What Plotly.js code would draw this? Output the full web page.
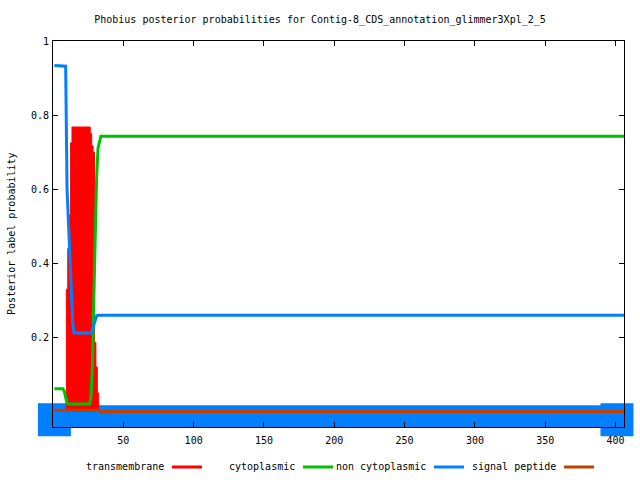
<!DOCTYPE html>
<html>
<head>
<meta charset="utf-8">
<script src="https://cdn.plot.ly/plotly-3.0.1.min.js"></script>
<style>html,body{margin:0;padding:0;background:#fff;}#chart{width:640px;height:480px;}</style>
</head>
<body>
<div id="chart"></div>
<script>
// ---- data ----
const chartTitle = "Phobius posterior probabilities for Contig-8_CDS_annotation_glimmer3Xpl_2_5";
const yTitle = "Posterior label probability";

// transmembrane posterior (residue, probability)
const tmX = [9, 10, 11, 12, 13, 14, 15, 16, 17, 18, 19, 20, 21, 22, 23, 24, 25, 26, 27, 28, 29, 30, 31, 32, 33];
const tmY = [0, 0.33, 0.44, 0.53, 0.725, 0.768, 0.768, 0.768, 0.768, 0.768, 0.768, 0.768, 0.768, 0.768, 0.768, 0.768, 0.768, 0.768, 0.75, 0.717, 0.70, 0.186, 0.12, 0.05, 0];

// cytoplasmic posterior
const cyX = [1, 7, 8, 9, 10, 11, 26, 27, 28, 29, 30, 31, 32, 33, 34, 406];
const cyY = [0.061, 0.061, 0.055, 0.035, 0.022, 0.02, 0.02, 0.04, 0.12, 0.30, 0.48, 0.63, 0.71, 0.73, 0.743, 0.743];

// non cytoplasmic posterior
const ncX = [1, 4, 5, 9, 10, 11, 12, 13, 14, 15, 27, 28, 29, 30, 31, 32, 406];
const ncY = [0.934, 0.934, 0.932, 0.932, 0.60, 0.50, 0.42, 0.30, 0.24, 0.212, 0.212, 0.22, 0.235, 0.25, 0.258, 0.26, 0.26];

// signal peptide posterior
const spX = [1, 33, 34, 406];
const spY = [0.003, 0.003, 0, 0];

// predicted topology band drawn under the curves
const bandX = [1, 406];
const bandLevel = [-0.0225, -0.0225];
const bandCapX = [1, 401];

const xTicks = [50, 100, 150, 200, 250, 300, 350, 400];
const yTicks = [0.2, 0.4, 0.6, 0.8, 1];
const yTickText = ["0.2", "0.4", "0.6", "0.8", "1"];

const legendLabels = ["transmembrane", "cytoplasmic", "non cytoplasmic", "signal peptide"];
const legendColors = ["#ff0000", "#00c000", "#0080ff", "#c04000"];
// ---------------------------------------

const FONT = "DejaVu Sans Mono, Liberation Mono, monospace";
const RED = legendColors[0], GREEN = legendColors[1], BLUE = legendColors[2], BROWN = legendColors[3];

const traces = [
  {x: bandX, y: bandLevel, mode: "lines", line: {color: BLUE, width: 29}, hoverinfo: "skip", showlegend: false},
  {x: bandCapX, y: [bandLevel[0], bandLevel[1]], mode: "markers", cliponaxis: false,
   marker: {symbol: "square", size: 33, color: BLUE, line: {width: 0}}, hoverinfo: "skip", showlegend: false},
  {x: tmX, y: tmY, mode: "lines", line: {color: RED, width: 1, shape: "hvh"}, fill: "tozeroy", fillcolor: RED, name: legendLabels[0]},
  {x: cyX, y: cyY, mode: "lines", line: {color: GREEN, width: 3}, name: legendLabels[1]},
  {x: ncX, y: ncY, mode: "lines", line: {color: BLUE, width: 3}, name: legendLabels[2]},
  {x: spX, y: spY, mode: "lines", line: {color: BROWN, width: 3}, name: legendLabels[3]}
];

// plot area geometry in pixels for legend placement
const L = 53, R = 16, T = 41, B = 53, W = 640, H = 480;
const pw = W - L - R, ph = H - T - B;
const px = p => (p - L) / pw;
const py = p => 1 - (p - T) / ph;

const legendTextEnd = [166, 297, 428, 558];
const legendY = 467;
const annotations = [];
const shapes = [];
legendLabels.forEach((lab, i) => {
  annotations.push({text: lab, xref: "paper", yref: "paper", x: px(legendTextEnd[i]), y: py(legendY),
    xanchor: "right", yanchor: "middle", showarrow: false, font: {family: FONT, size: 10, color: "#000"}});
  shapes.push({type: "line", xref: "paper", yref: "paper", x0: px(legendTextEnd[i] + 6), x1: px(legendTextEnd[i] + 36),
    y0: py(legendY), y1: py(legendY), line: {color: legendColors[i], width: 3}});
});
annotations.push({text: yTitle, xref: "paper", yref: "paper", x: px(11), y: 0.5, textangle: -90,
  xanchor: "center", yanchor: "middle", showarrow: false, font: {family: FONT, size: 10, color: "#000"}});

const layout = {
  width: W, height: H,
  margin: {l: L, r: R, t: T, b: B, pad: 0},
  paper_bgcolor: "#fff", plot_bgcolor: "#fff",
  showlegend: false,
  title: {text: chartTitle, x: 0.5, xref: "container", y: 1 - 19 / H, yref: "container", yanchor: "middle",
    font: {family: FONT, size: 10, color: "#000"}},
  xaxis: {range: [0, 406], tickmode: "array", tickvals: xTicks, ticks: "inside", ticklen: 5, tickwidth: 1, tickcolor: "#000",
    showline: true, mirror: "ticks", linecolor: "#000", linewidth: 1, showgrid: false, zeroline: false, ticklabelstandoff: 4,
    tickfont: {family: FONT, size: 10, color: "#000"}, layer: "above traces", fixedrange: true},
  yaxis: {range: [-0.042, 1], tickmode: "array", tickvals: yTicks, ticktext: yTickText, ticks: "inside", ticklen: 5, tickwidth: 1, tickcolor: "#000",
    showline: true, mirror: "ticks", linecolor: "#000", linewidth: 1, showgrid: false, zeroline: false, ticklabelstandoff: 1,
    tickfont: {family: FONT, size: 10, color: "#000"}, layer: "above traces", fixedrange: true},
  annotations: annotations,
  shapes: shapes
};

Plotly.newPlot("chart", traces, layout, {staticPlot: true, displayModeBar: false});
</script>
</body>
</html>
